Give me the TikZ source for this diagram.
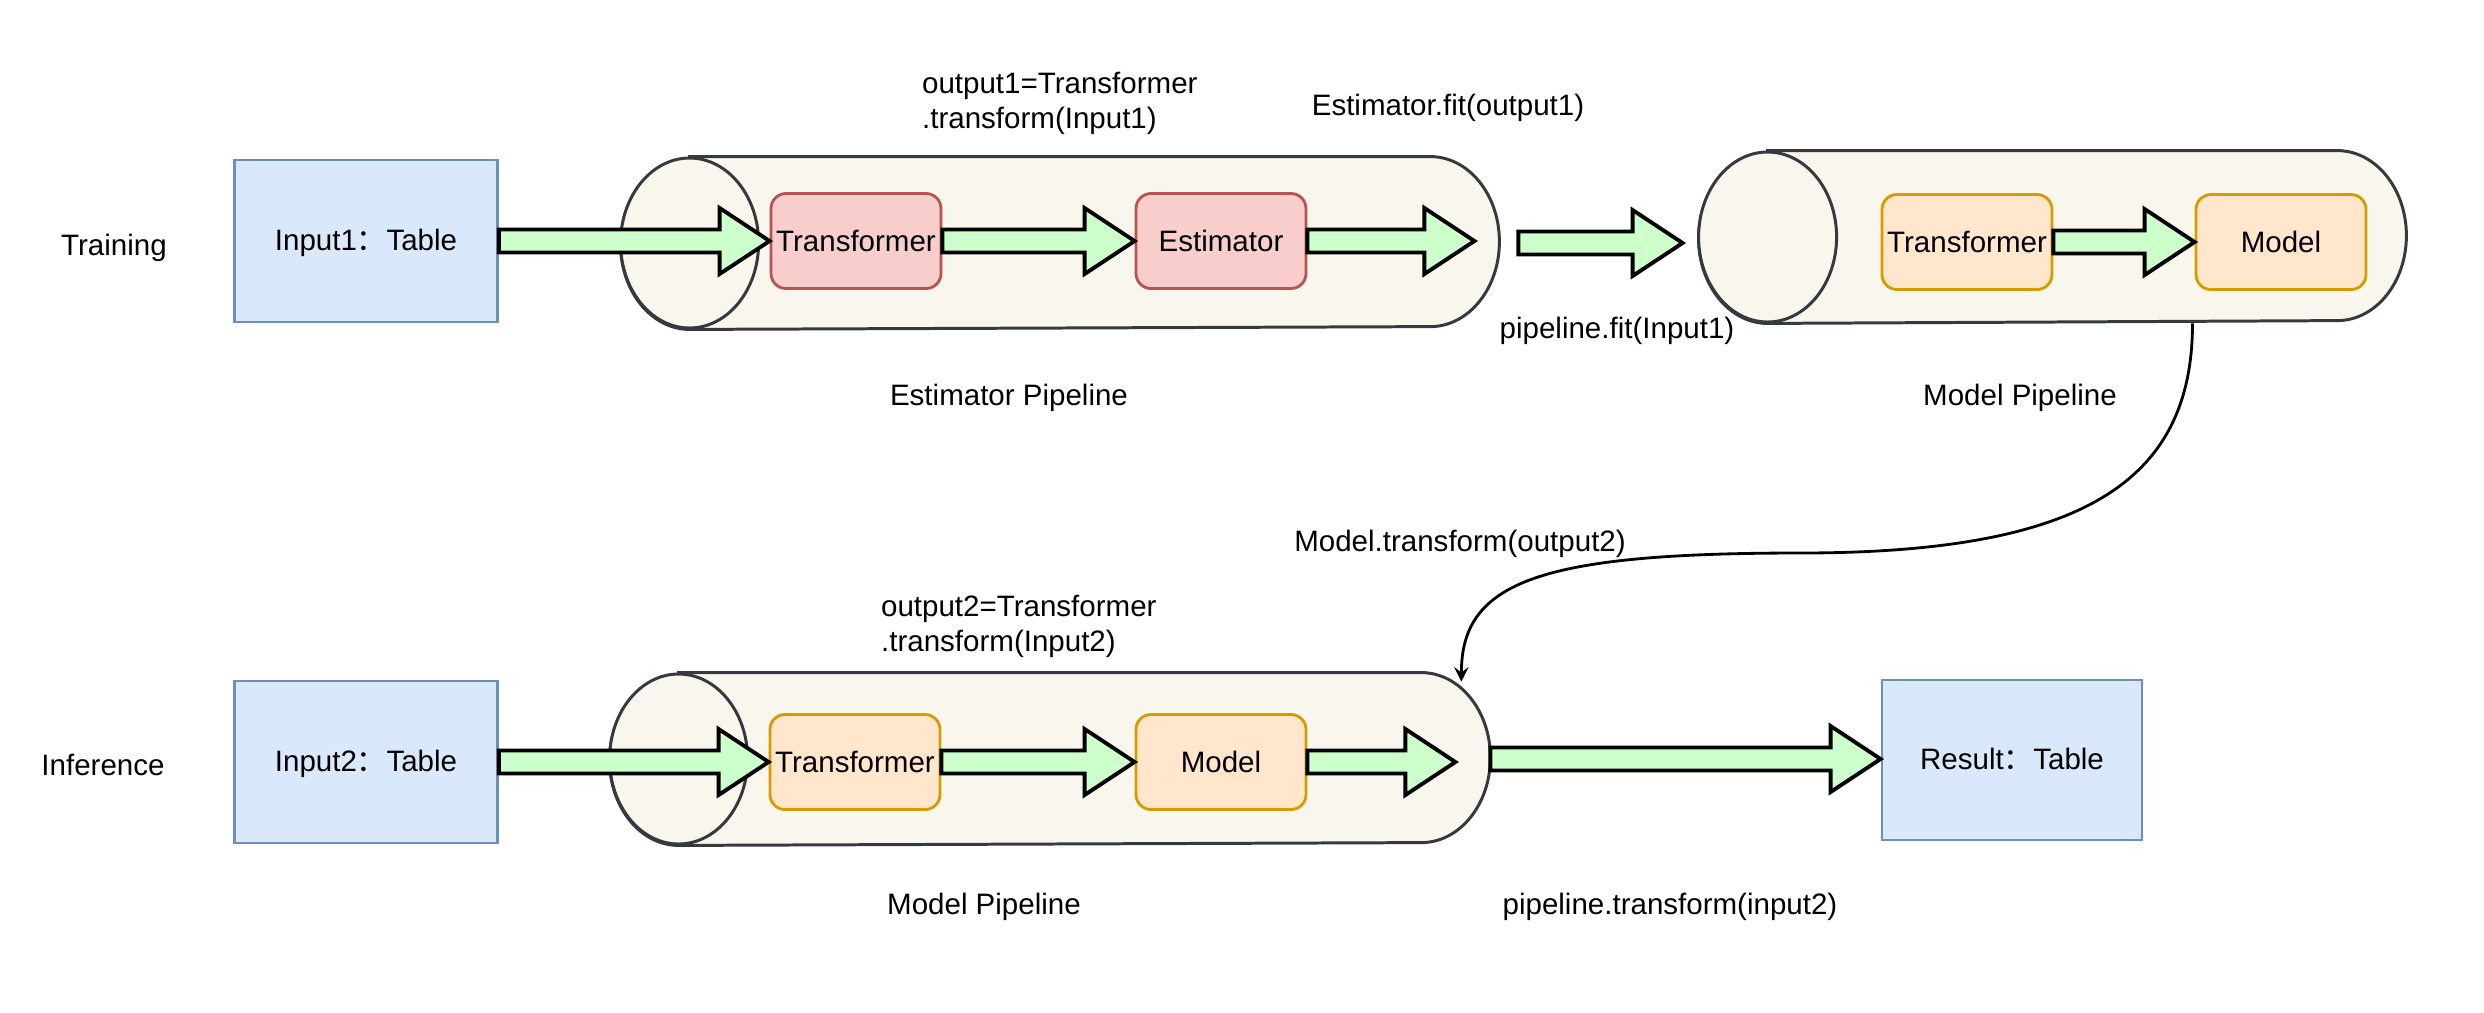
\documentclass[tikz,border=0pt]{standalone}
\usepackage{fontspec}
\setmainfont{Liberation Sans}
\newfontfamily\cjk{Noto Sans CJK SC}
\usetikzlibrary{calc}

\definecolor{bluefill}{HTML}{DAE8FC}
\definecolor{blueline}{HTML}{6C8EBF}
\definecolor{redfill}{HTML}{F8CECC}
\definecolor{redline}{HTML}{B85450}
\definecolor{orangefill}{HTML}{FFE6CC}
\definecolor{orangeline}{HTML}{D79B00}
\definecolor{pipefill}{HTML}{F9F7ED}
\definecolor{pipeline}{HTML}{36393D}
\definecolor{arrowgreen}{HTML}{CCFFCC}

% block arrow from #1 to #2 (horizontal)
\newcommand{\fatarrow}[2]{%
  \draw[fat] let \p1=#1, \p2=#2 in
    (\x1,\y1+0.115cm) -- (\x2-0.5cm,\y1+0.115cm) -- (\x2-0.5cm,\y1+0.33cm)
    -- (\x2,\y1) -- (\x2-0.5cm,\y1-0.33cm) -- (\x2-0.5cm,\y1-0.115cm)
    -- (\x1,\y1-0.115cm) -- cycle;}

% cylinder lying on its side, drawn round the node #1
\newcommand{\drawpipe}[1]{%
  \draw[pipe] ([xshift=0.69cm]#1.north west) -- ([xshift=-0.69cm]#1.north east)
    arc[start angle=90, end angle=-90, x radius=0.69cm, y radius=0.85cm]
    -- ([xshift=0.69cm]#1.south west)
    arc[start angle=270, end angle=90, x radius=0.69cm, y radius=0.85cm] -- cycle;
  \draw[pipe] ([xshift=0.69cm]#1.west) ellipse[x radius=0.69cm, y radius=0.85cm];}

\begin{document}
\begin{tikzpicture}[>=stealth, thick,
    font=\fontsize{8.4}{10}\selectfont,
    table/.style={draw=blueline, fill=bluefill, line width=0.8pt,
        minimum width=2.63cm, minimum height=1.62cm, text height=0.72em, text depth=0.2em},
    redstep/.style={draw=redline, fill=redfill, line width=0.8pt, rounded corners=0.15cm,
        minimum width=1.70cm, minimum height=0.95cm, inner sep=0pt},
    orangestep/.style={redstep, draw=orangeline, fill=orangefill},
    pipebox/.style={minimum height=1.70cm, inner sep=0pt},
    pipe/.style={draw=pipeline, fill=pipefill, line width=0.85pt},
    fat/.style={draw=black, fill=arrowgreen, line width=1.1pt}]

        \useasboundingbox (0,0) rectangle (24.84,-10.12);

        % Row labels
        \node (training) at (1.14,-2.48) {Training};
        \node (inference) at (1.03,-7.65) {Inference};

        % Pipelines
        \node[pipebox, minimum width=8.76cm] (ep) at (10.60,-2.43) {};
        \drawpipe{ep}
        \node[pipebox, minimum width=7.05cm] (mp) at (20.525,-2.37) {};
        \drawpipe{mp}
        \node[pipebox, minimum width=8.78cm] (mb) at (10.50,-7.59) {};
        \drawpipe{mb}

        % Training row
        \node[table] (inA) at (3.66,-2.41) {Input1{\cjk ：}Table};
        \node[redstep] (tfA) at (8.56,-2.41) {Transformer};
        \node[redstep] (esA) at (12.21,-2.41) {Estimator};
        \node[orangestep] (tfM) at (19.67,-2.42) {Transformer};
        \node[orangestep] (mdM) at (22.81,-2.42) {Model};

        % Inference row
        \node[table] (inB) at (3.66,-7.62) {Input2{\cjk ：}Table};
        \node[orangestep] (tfB) at (8.55,-7.62) {Transformer};
        \node[orangestep] (mdB) at (12.21,-7.62) {Model};
        \node[table, minimum width=2.60cm, minimum height=1.60cm] (result) at (20.12,-7.60) {Result{\cjk ：}Table};

        % Labels
        \node[anchor=west, align=left] (outA) at (9.09,-1.03) {output1=Transformer\\.transform(Input1)};
        \node (fitE) at (14.48,-1.08) {Estimator.fit(output1)};
        \node (fitP) at (16.17,-3.31) {pipeline.fit(Input1)};
        \node (nameE) at (10.09,-3.98) {Estimator Pipeline};
        \node (nameM) at (20.20,-3.98) {Model Pipeline};
        \node (trM) at (14.60,-5.44) {Model.transform(output2)};
        \node[anchor=west, align=left] (outB) at (8.68,-6.26) {output2=Transformer\\.transform(Input2)};
        \node (nameB) at (9.84,-9.07) {Model Pipeline};
        \node (trP) at (16.70,-9.07) {pipeline.transform(input2)};

        % Block arrows
        \fatarrow{(inA.east)}{(tfA.west)}
        \fatarrow{(tfA.east)}{(esA.west)}
        \fatarrow{(esA.east)}{([xshift=-0.25cm]ep.east)}
        \fatarrow{([xshift=0.19cm]ep.east)}{([xshift=-0.16cm]mp.west)}
        \fatarrow{(tfM.east)}{(mdM.west)}
        \fatarrow{(inB.east)}{(tfB.west)}
        \fatarrow{(tfB.east)}{(mdB.west)}
        \fatarrow{(mdB.east)}{([xshift=-0.35cm]mb.east)}
        \fatarrow{(mb.east)}{(result.west)}

        % Model pipeline -> inference pipeline
        \coordinate (bend) at (18.0,-5.53);
        \draw[->] ([xshift=1.40cm]mp.south) .. controls +(0,-1.6) and +(2.8,0) .. (bend)
            .. controls +(-2.6,0) and +(0,1.0) .. ([xshift=-0.29cm,yshift=-0.09cm]mb.north east);

    \end{tikzpicture}
\end{document}
